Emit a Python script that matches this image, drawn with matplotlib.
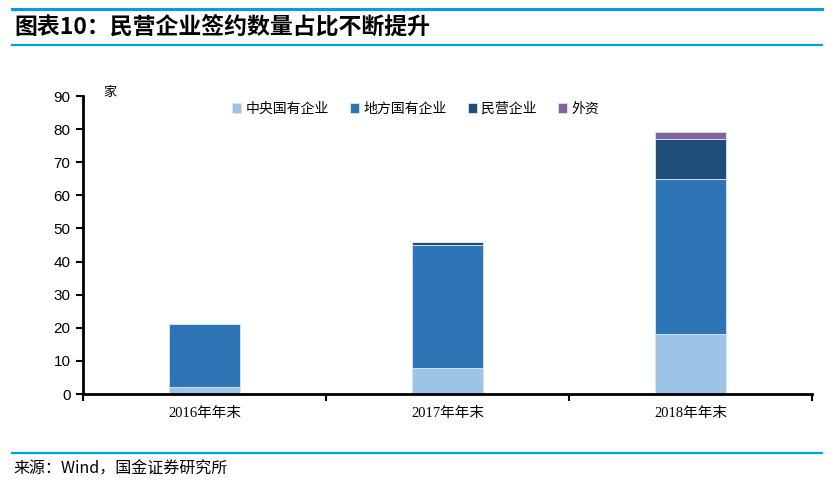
import numpy as np
import matplotlib
matplotlib.use('Agg')
import matplotlib.pyplot as plt
from matplotlib.lines import Line2D

plt.rcParams['font.family'] = ['Noto Sans CJK SC', 'DejaVu Sans']

# data (家)
years = ['2016年年末', '2017年年末', '2018年年末']
central_soe = [2, 8, 18]
local_soe = [19, 37, 47]
private = [0, 1, 12]
foreign = [0, 0, 2]
series_names = ['中央国有企业', '地方国有企业', '民营企业', '外资']
colors = ['#9dc3e6', '#2e75b6', '#1f4e79', '#8064a2']

fig = plt.figure(figsize=(8.35, 4.87), dpi=100)
ax = fig.add_axes([83 / 835, 1 - 394 / 487, (812 - 83) / 835, (394 - 96) / 487])

x = np.arange(len(years))
bottom = np.zeros(len(years))
for vals, name, c in zip([central_soe, local_soe, private, foreign], series_names, colors):
    ax.bar(x, vals, width=0.29, bottom=bottom, color=c, label=name,
           edgecolor='#dbe7f3', linewidth=0.6)
    bottom += np.array(vals)

ax.set_xlim(-0.5, len(years) - 0.5)
ax.set_ylim(0, 90)
ax.set_yticks(np.arange(0, 91, 10))
ax.set_xticks(x)
ax.set_xticklabels(years, family=['Liberation Serif', 'Noto Sans CJK SC'], fontsize=10.5)
ax.set_xticks(np.arange(-0.5, len(years), 1), minor=True)
ax.tick_params(axis='x', which='major', length=0, pad=9)
ax.tick_params(axis='x', which='minor', length=5, width=1.5, direction='out')
ax.tick_params(axis='y', length=5, width=1.5, direction='out', labelsize=11, pad=4)
for lab in ax.get_yticklabels():
    lab.set_family(['Liberation Sans', 'DejaVu Sans'])

for s in ['top', 'right']:
    ax.spines[s].set_visible(False)
ax.spines['left'].set_linewidth(2)
ax.spines['bottom'].set_linewidth(2)

fig.text(110 / 835, 1 - 92 / 487, '家', fontsize=9.5, ha='center', va='center',
         family=['Noto Sans CJK SC'])

leg = ax.legend(loc='center left', bbox_to_anchor=(226 / 835, 1 - 109 / 487),
                bbox_transform=fig.transFigure, ncol=4, frameon=False,
                fontsize=10, handlelength=0.7, handleheight=0.7,
                handletextpad=0.3, columnspacing=1.5, borderaxespad=0)

# title and frame lines
blue = '#00a0e4'
fig.add_artist(Line2D([12 / 835, 822 / 835], [1 - 9.3 / 487] * 2, color=blue, lw=2.2))
fig.add_artist(Line2D([12 / 835, 822 / 835], [1 - 44.7 / 487] * 2, color=blue, lw=1.6))
fig.text(14 / 835, 1 - 27 / 487, '图表10：民营企业签约数量占比不断提升', fontsize=16.5,
         fontweight='bold', va='center', ha='left')
fig.add_artist(Line2D([12 / 835, 822 / 835], [1 - 453 / 487] * 2, color=blue, lw=1.6))
fig.text(13 / 835, 1 - 469 / 487, '来源：Wind，国金证券研究所', fontsize=11.5,
         va='center', ha='left')

fig.savefig('out.png', dpi=100)
